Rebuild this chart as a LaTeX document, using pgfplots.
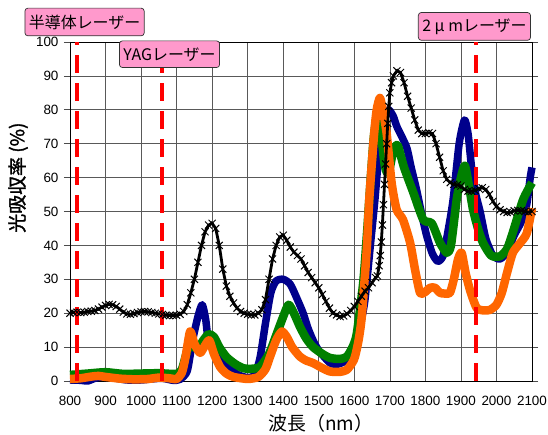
\documentclass[border=0pt]{standalone}
\usepackage{pgfplots}
\pgfplotsset{compat=1.18}
\usepackage{fontspec}
\setmainfont{Liberation Sans}
\newfontfamily\jp{Noto Sans CJK JP}
\newfontfamily\jpb[FakeBold=1.6]{Noto Sans CJK JP}
\definecolor{cnavy}{RGB}{0,0,140}
\definecolor{cgreen}{RGB}{0,128,0}
\definecolor{corange}{RGB}{255,102,0}
\definecolor{cpink}{RGB}{255,153,204}
\begin{document}
\begin{tikzpicture}[x=1bp,y=1bp]
\path[use as bounding box] (-70bp,-54bp) rectangle (478bp,381bp);
\begin{axis}[
  at={(0,0)}, anchor=origin,
  scale only axis, width=462bp, height=339bp,
  xmin=800, xmax=2100, ymin=0, ymax=100,
  xtick={800,900,...,2100}, ytick={0,10,...,100},
  grid=major,
  major grid style={draw=black!65, line width=0.7pt},
  axis line style={line width=0.8pt},
  tick align=outside, major tick length=6bp,
  xtick style={draw=none},
  ytick style={black!70, line width=0.6pt},
  tick label style={font=\fontsize{13.5}{15}\selectfont},
  xticklabel style={yshift=-6bp},
  yticklabel style={xshift=-2bp},
  /pgf/number format/assume math mode=true,
  /pgf/number format/1000 sep={},
  clip=false,
]
% navy (diamonds)
\addplot[cnavy, line width=7.5bp, smooth, tension=0.4, line join=round] coordinates {
(800,0.3)(830,0.2)(850,0)(870,0.8)(900,1.3)(930,0.8)(960,0.3)(1000,0.3)(1030,0.6)(1060,0.8)(1090,0.2)(1110,0.5)(1130,3)(1145,12)(1160,19)(1172,22.5)(1182,18)(1190,11)(1200,10)(1215,9)(1240,5)(1270,2)(1300,1)(1320,1.8)(1335,7)(1350,17)(1365,26)(1380,29.5)(1400,30)(1420,28.5)(1440,24)(1456,20)(1470,15.5)(1484,12)(1500,9)(1532,5.3)(1555,5)(1579,6.2)(1595,8.5)(1607,12)(1620,18)(1630,24)(1644,38.8)(1658,53.5)(1670,68)(1685,78)(1697,80)(1710,78)(1720,75)(1747,69)(1760,63)(1775,56.5)(1790,49)(1804,42.7)(1820,37.5)(1835,35.3)(1850,37)(1865,45)(1878,53.5)(1895,70)(1910,77)(1920,73)(1930,63)(1942,55)(1954,50)(1970,42)(1990,37)(2010,36)(2030,38)(2050,43)(2070,47)(2085,52)(2095,60)(2100,63)
};
% green (triangles)
\addplot[cgreen, line width=8.5bp, smooth, tension=0.4, line join=round] coordinates {
(800,1.8)(850,2.2)(900,2.6)(950,2.1)(1000,2.2)(1050,2.3)(1100,2.1)(1115,3.5)(1130,9)(1140,11)(1150,10)(1160,9.5)(1175,12)(1190,13.8)(1205,13)(1220,10)(1241,7)(1265,5)(1287,3.8)(1310,3.6)(1335,4.2)(1360,8)(1382,14)(1400,19)(1415,22.5)(1430,20)(1447,16)(1465,12.5)(1484,10)(1510,8)(1532,6.8)(1560,6.5)(1579,7.2)(1595,10)(1607,14)(1625,29)(1636,44)(1645,58)(1655,72)(1665,78.5)(1675,73)(1685,64)(1692,61.5)(1700,63)(1710,68)(1722,69.5)(1740,63)(1766,55.6)(1794,47.6)(1818,46.5)(1841,40.8)(1860,37.8)(1872,40)(1888,53.5)(1900,60)(1911,63.5)(1922,58)(1934,50.6)(1948,45)(1962,40.8)(1985,37)(2010,36.8)(2030,39)(2046,43.8)(2075,53.5)(2100,58.5)
};
% orange (triangles)
\addplot[corange, line width=8.5bp, smooth, tension=0.4, line join=round] coordinates {
(800,0.6)(830,0.8)(860,1.3)(880,1.5)(900,1.2)(940,0.7)(980,0.5)(1020,0.6)(1050,1.0)(1080,0.8)(1100,0.6)(1115,2.5)(1125,7)(1138,14.6)(1150,11)(1166,8.3)(1180,10.5)(1192,12)(1205,8)(1222,4.2)(1240,2.2)(1260,1.2)(1300,0.6)(1330,1.2)(1350,3.5)(1363,7.2)(1380,12)(1396,14.6)(1410,13)(1425,10)(1447,7.2)(1465,6)(1484,5.3)(1510,3.8)(1532,2.8)(1560,2.7)(1579,3.3)(1595,5.5)(1602,7.2)(1612,12)(1621,19)(1635,38.8)(1642,53.5)(1655,72)(1663,80)(1672,83.5)(1680,80)(1691,73)(1705,58.5)(1719,50.6)(1737,47.6)(1757,40.8)(1771,32.8)(1785,26)(1800,26.3)(1813,27.5)(1827,27.5)(1841,26)(1855,25.8)(1869,26)(1880,30)(1892,36)(1902,37.8)(1913,32)(1925,27)(1944,21.6)(1965,20.8)(1982,21)(2000,22.5)(2015,26)(2030,32)(2046,37.8)(2065,40.5)(2085,43.5)(2100,51)
};
% black (x marks)
\addplot[black, line width=2.8bp, mark=x, mark size=5bp, mark options={line width=1bp}] coordinates {
(800,20.0)(810,20.2)(820,20.3)(830,20.2)(840,20.3)(850,20.5)(860,20.6)(870,20.8)(880,21.2)(890,21.8)(900,22.3)(910,22.6)(920,22.5)(930,22.0)(940,21.2)(950,20.3)(960,19.8)(970,19.7)(980,19.9)(990,20.2)(1000,20.4)(1010,20.5)(1020,20.4)(1030,20.2)(1040,20.0)(1050,19.8)(1060,19.6)(1070,19.4)(1080,19.3)(1090,19.3)(1100,19.4)(1110,19.7)(1120,20.5)(1130,22.5)(1140,26)(1150,30)(1160,35)(1170,40)(1180,44)(1190,46)(1200,46.5)(1210,45)(1220,40)(1230,33)(1240,28)(1250,25)(1260,23)(1270,21.5)(1280,20.5)(1290,20)(1300,19.7)(1310,19.5)(1320,19.5)(1330,20)(1340,21)(1350,24)(1360,30)(1370,36)(1380,40)(1390,42.5)(1400,43)(1410,41.5)(1420,39.5)(1430,38)(1440,37)(1450,36)(1460,34)(1470,32)(1480,30.5)(1490,29)(1500,27.5)(1510,25.5)(1520,23.5)(1530,21.5)(1540,20)(1550,19.5)(1560,19)(1570,19.2)(1580,19.8)(1590,20.8)(1600,22)(1610,23.5)(1620,25)(1630,26.5)(1640,27.5)(1650,29)(1660,30.5)(1665,31)(1670,34)(1673,37)(1676,41)(1679,46)(1682,52)(1685,58)(1688,64)(1691,70)(1694,76)(1697,81)(1700,85)(1705,88)(1710,90)(1720,91.5)(1730,91)(1740,88)(1750,84)(1760,80.5)(1770,77)(1780,74)(1790,73)(1800,73)(1810,73.2)(1820,73)(1830,70)(1840,66)(1850,62)(1860,59.5)(1870,58.5)(1880,58)(1890,57.8)(1900,57.5)(1910,56.5)(1920,56)(1930,56)(1940,56.2)(1950,56.8)(1960,57)(1970,56.5)(1980,55)(1990,53)(2000,51.5)(2010,50.5)(2020,50)(2030,49.7)(2040,49.8)(2050,50.2)(2060,50.3)(2070,50.2)(2080,50)(2090,49.8)(2100,50)
};
% laser lines
\addplot[red, line width=4bp, dash pattern=on 18bp off 10bp] coordinates {(820,0)(820,100)};
\addplot[red, line width=4bp, dash pattern=on 18bp off 10bp] coordinates {(1060,0)(1060,100)};
\addplot[red, line width=4bp, dash pattern=on 18bp off 10bp] coordinates {(1943,0)(1943,100)};
% labels
\node[draw=black!80, line width=0.7pt, fill=cpink, rounded corners=3bp, inner xsep=4bp, inner ysep=6.5bp, font=\jp\fontsize{16}{18}\selectfont] at (axis cs:841,105.9) {半導体レーザー};
\node[draw=black!80, line width=0.7pt, fill=cpink, rounded corners=3bp, inner xsep=4bp, inner ysep=6.5bp, font=\jp\fontsize{16}{18}\selectfont] at (axis cs:1080,96.4) {YAGレーザー};
\node[draw=black!80, line width=0.7pt, fill=cpink, rounded corners=3bp, inner xsep=4bp, inner ysep=6bp, font=\jp\fontsize{16}{18}\selectfont] at (axis cs:1938,104.6) {2 μ mレーザー};
\node[rotate=90, font=\jpb\fontsize{19}{21}\selectfont] at (axis cs:654,60) {光吸収率 (\%)};
\node[font=\jp\fontsize{19}{21}\selectfont] at (axis cs:1506,-12.4) {波長（nm）};
\end{axis}
\end{tikzpicture}
\end{document}
